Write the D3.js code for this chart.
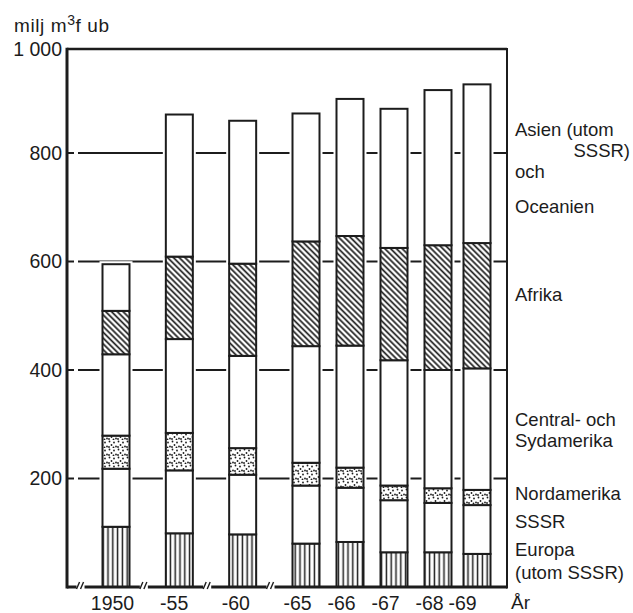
<!DOCTYPE html>
<html><head><meta charset="utf-8">
<script src="https://cdn.jsdelivr.net/npm/d3@7"></script>
<style>
body{margin:0;background:#fff}
svg{display:block}
text{font-family:"Liberation Sans",Arial,Helvetica,sans-serif;fill:#1c1c1c}
</style>
</head><body>
<svg id="c" width="633" height="613"></svg>
<script>
// ---- data ----
const years = [1950, 1955, 1960, 1965, 1966, 1967, 1968, 1969];
const yearLabels = ["1950", "-55", "-60", "-65", "-66", "-67", "-68", "-69"];
const europa      = [111,  99,  97,  80,  83,  64,  64,  61];
const sssr        = [107, 116, 110, 107, 100,  96,  91,  90];
const nordamerika = [ 61,  69,  49,  42,  37,  27,  27,  28];
const centralSyd  = [150, 173, 170, 215, 225, 231, 218, 224];
const afrika      = [ 80, 152, 170, 193, 202, 207, 230, 231];
const asien       = [ 86, 265, 266, 239, 257, 260, 291, 298];
const seriesKeys  = ["europa", "sssr", "nordamerika", "centralSyd", "afrika", "asien"];
const yTicks      = [200, 400, 600, 800, 1000];
const yTickLabels = ["200", "400", "600", "800", "1 000"];
const breakYears  = [1947.2, 1952.2, 1957.2, 1962.2];

// ---- layout / style ----
const ink = "#1c1c1c";
const svg = d3.select("#c");
const y = d3.scaleLinear().domain([0, 800, 1000]).range([587, 153, 49]);
const x = d3.scaleLinear().domain([1950, 1965, 1968, 1969]).range([116, 306, 438, 477]);
const xl = d3.scaleLinear().domain([1950, 1965, 1968, 1969]).range([112, 297, 429, 462]);
const barW = 27;
const axisX = 67, frameX = 507;
const fills = {europa: "url(#stripes)", sssr: "#fff", nordamerika: "url(#dots)",
               centralSyd: "#fff", afrika: "url(#hatch)", asien: "#fff"};

const table = years.map((yr, i) => ({year: yr, europa: europa[i], sssr: sssr[i],
  nordamerika: nordamerika[i], centralSyd: centralSyd[i], afrika: afrika[i], asien: asien[i]}));
const stacked = d3.stack().keys(seriesKeys)(table);

// patterns
const defs = svg.append("defs");
const pS = defs.append("pattern").attr("id", "stripes").attr("patternUnits", "userSpaceOnUse")
  .attr("width", 4.8).attr("height", 10);
pS.append("rect").attr("width", 4.8).attr("height", 10).attr("fill", "#fff");
pS.append("line").attr("x1", 2.4).attr("x2", 2.4).attr("y1", -1).attr("y2", 11)
  .attr("stroke", ink).attr("stroke-width", 1.5);

const pH = defs.append("pattern").attr("id", "hatch").attr("patternUnits", "userSpaceOnUse")
  .attr("width", 4.1).attr("height", 10).attr("patternTransform", "rotate(-45)");
pH.append("rect").attr("width", 4.1).attr("height", 10).attr("fill", "#fff");
pH.append("line").attr("x1", 2).attr("x2", 2).attr("y1", -1).attr("y2", 11)
  .attr("stroke", ink).attr("stroke-width", 1.7);

const pD = defs.append("pattern").attr("id", "dots").attr("patternUnits", "userSpaceOnUse")
  .attr("width", 9).attr("height", 8);
pD.append("rect").attr("width", 9).attr("height", 8).attr("fill", "#fff");
[[1.5,1.5],[6,2.5],[3.5,5],[8,6.5],[1,7],[5.5,7.5]].forEach(p =>
  pD.append("circle").attr("cx", p[0]).attr("cy", p[1]).attr("r", 0.9).attr("fill", ink));

// gridlines
const grid = svg.append("g").attr("stroke", ink).attr("stroke-width", 2);
yTicks.filter(v => v < 1000).forEach(v => {
  grid.append("line").attr("x1", axisX).attr("x2", axisX + 7).attr("y1", y(v)).attr("y2", y(v));
  grid.append("line").attr("x1", axisX + 11).attr("x2", frameX).attr("y1", y(v)).attr("y2", y(v));
});
grid.append("line").attr("x1", axisX).attr("x2", frameX).attr("y1", y(1000)).attr("y2", y(1000))
  .attr("stroke-width", 2.5);

// bar halos
svg.append("g").selectAll("rect").data(table).join("rect")
  .attr("x", d => x(d.year) - barW / 2 - 3)
  .attr("width", barW + 6)
  .attr("y", d => y(d3.sum(seriesKeys, k => d[k])) - 3)
  .attr("height", d => y(0) - 3 - y(d3.sum(seriesKeys, k => d[k])) + 3)
  .attr("fill", "#fff");

// bars
const barsG = svg.append("g");
stacked.forEach(layer => {
  barsG.append("g").selectAll("rect").data(layer).join("rect")
    .attr("x", d => x(d.data.year) - barW / 2)
    .attr("width", barW)
    .attr("y", d => y(d[1]))
    .attr("height", d => y(d[0]) - y(d[1]))
    .attr("fill", fills[layer.key])
    .attr("stroke", ink).attr("stroke-width", 2);
});

// baseline with breaks
const base = svg.append("g").attr("stroke", ink);
const bx = breakYears.map(x);
const segs = [[axisX, bx[0] - 4]];
for (let i = 0; i < bx.length - 1; i++) segs.push([bx[i] + 4, bx[i + 1] - 4]);
segs.push([bx[bx.length - 1] + 4, frameX]);
segs.forEach(s => base.append("line").attr("x1", s[0]).attr("x2", s[1])
  .attr("y1", y(0)).attr("y2", y(0)).attr("stroke-width", 3));
bx.forEach(b => [-2, 2].forEach(dx => base.append("line")
  .attr("x1", b + dx - 2).attr("x2", b + dx + 1).attr("y1", y(0) + 2).attr("y2", y(0) - 5)
  .attr("stroke-width", 1.4)));

// frame lines
svg.append("line").attr("x1", axisX).attr("x2", axisX).attr("y1", y(1000) - 1.2).attr("y2", y(0) + 1.5)
  .attr("stroke", ink).attr("stroke-width", 3);
svg.append("line").attr("x1", frameX).attr("x2", frameX).attr("y1", y(1000) - 1).attr("y2", y(0) + 1.5)
  .attr("stroke", ink).attr("stroke-width", 2);

// y axis labels
const yAx = svg.append("g").attr("transform", `translate(${axisX},0)`)
  .call(d3.axisLeft(y).tickValues(yTicks).tickFormat((d, i) => yTickLabels[i]).tickSize(0).tickPadding(5));
yAx.select(".domain").remove();
yAx.selectAll("text").attr("font-size", 19.5).attr("font-family", "Liberation Sans, Arial, sans-serif").attr("fill", ink);

// x axis labels
const xAx = svg.append("g").attr("transform", `translate(0,${y(0) + 6})`)
  .call(d3.axisBottom(xl).tickValues(years).tickFormat((d, i) => yearLabels[i]).tickSize(0).tickPadding(3));
xAx.select(".domain").remove();
xAx.selectAll("text").attr("font-size", 19.5).attr("font-family", "Liberation Sans, Arial, sans-serif").attr("fill", ink);

// y title
const t = svg.append("text").attr("x", 14).attr("y", 32).attr("font-size", 19).attr("letter-spacing", 0.6);
t.append("tspan").text("milj m");
t.append("tspan").attr("font-size", 14).attr("dy", -7).text("3");
t.append("tspan").attr("dy", 7).text("f ub");

// legend labels (right side)
const legendLines = [
  {t: "Asien (utom", yy: 136}, {t: "SSSR)", yy: 157, end: true}, {t: "och", yy: 178},
  {t: "Oceanien", yy: 213}, {t: "Afrika", yy: 301}, {t: "Central- och", yy: 426},
  {t: "Sydamerika", yy: 447}, {t: "Nordamerika", yy: 500}, {t: "SSSR", yy: 528},
  {t: "Europa", yy: 556}, {t: "(utom SSSR)", yy: 579}
];
svg.append("g").selectAll("text").data(legendLines).join("text")
  .attr("x", d => d.end ? 630 : 515).attr("y", d => d.yy)
  .attr("text-anchor", d => d.end ? "end" : "start")
  .attr("font-size", 18.5).text(d => d.t);
svg.append("text").attr("x", 511).attr("y", 609).attr("font-size", 19).text("År");
</script>
</body></html>
